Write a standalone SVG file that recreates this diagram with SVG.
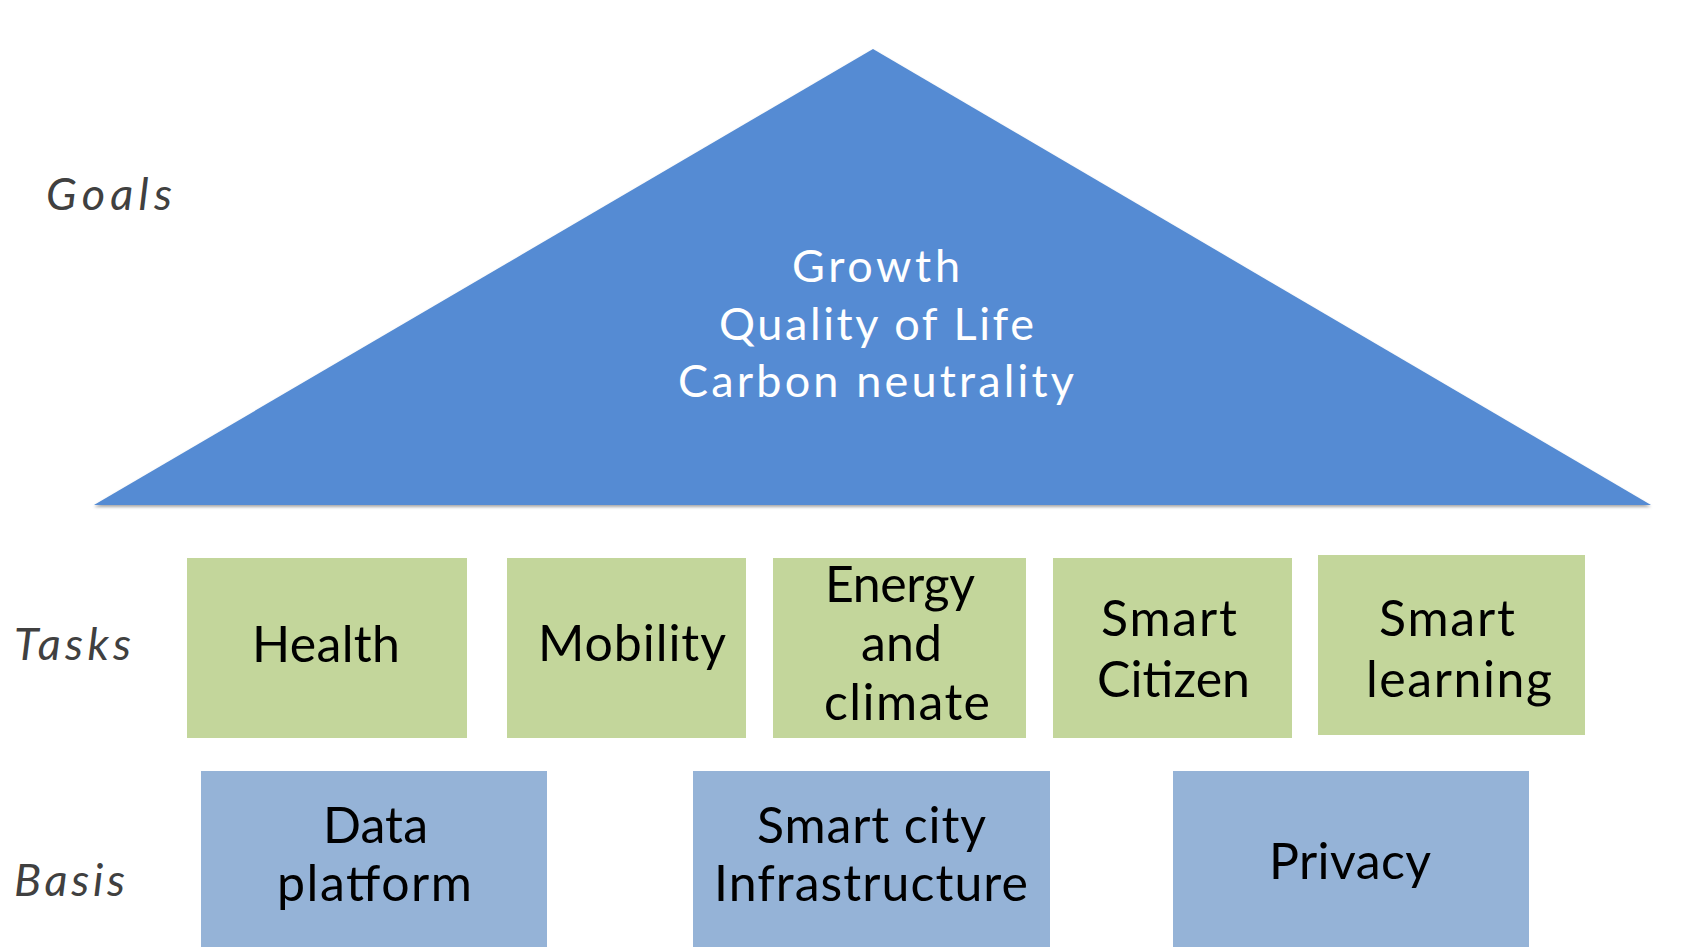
<svg xmlns="http://www.w3.org/2000/svg" width="1681" height="947" viewBox="0 0 1681 947">
  <defs>
    <filter id="shadow" x="-5%" y="-5%" width="110%" height="115%">
      <feDropShadow dx="0" dy="2" stdDeviation="1.5" flood-color="#000" flood-opacity="0.35"/>
    </filter>
    <style>
      .lbl { font-family: Lato, "Open Sans", "Liberation Sans", sans-serif; font-style: italic; font-size: 45px; fill: #404040; }
      .goal { font-family: Lato, "Open Sans", "Liberation Sans", sans-serif; font-size: 45px; fill: #ffffff; }
      .bt { font-family: Lato, "Open Sans", "Liberation Sans", sans-serif; font-size: 50px; fill: #000000; }
      .task { fill: #C3D69B; }
      .base { fill: #95B3D7; }
    </style>
  </defs>
  <rect width="1681" height="947" fill="#ffffff"/>

  <g id="labels">
    <text class="lbl" x="46" y="210" textLength="126">Goals</text>
    <text class="lbl" x="14" y="660" textLength="117">Tasks</text>
    <text class="lbl" x="14" y="896" textLength="111">Basis</text>
  </g>

  <g id="goals">
    <polygon points="873,49 1651,505 94,505" fill="#548BD3" filter="url(#shadow)"/>
    <text class="goal" x="792" y="282" textLength="168">Growth</text>
    <text class="goal" x="719" y="340" textLength="315">Quality of Life</text>
    <text class="goal" x="678" y="397" textLength="396">Carbon neutrality</text>
  </g>

  <g id="task-health">
    <rect class="task" x="187" y="558" width="280" height="180"/>
    <text class="bt" x="252" y="662" textLength="148">Health</text>
  </g>
  <g id="task-mobility">
    <rect class="task" x="507" y="558" width="239" height="180"/>
    <text class="bt" x="538" y="661" textLength="188">Mobility</text>
  </g>
  <g id="task-energy">
    <rect class="task" x="773" y="558" width="253" height="180"/>
    <text class="bt" x="825" y="602" textLength="150">Energy</text>
    <text class="bt" x="861" y="661" textLength="81">and</text>
    <text class="bt" x="824" y="720" textLength="166">climate</text>
  </g>
  <g id="task-citizen">
    <rect class="task" x="1053" y="558" width="239" height="180"/>
    <text class="bt" x="1101" y="636" textLength="136">Smart</text>
    <text class="bt" x="1097" y="697" textLength="153">Citizen</text>
  </g>
  <g id="task-learning">
    <rect class="task" x="1318" y="555" width="267" height="180"/>
    <text class="bt" x="1379" y="636" textLength="136">Smart</text>
    <text class="bt" x="1366" y="697" textLength="186">learning</text>
  </g>

  <g id="basis-data">
    <rect class="base" x="201" y="771" width="346" height="176"/>
    <text class="bt" x="323" y="843" textLength="105">Data</text>
    <text class="bt" x="277" y="901" textLength="195">platform</text>
  </g>
  <g id="basis-infra">
    <rect class="base" x="693" y="771" width="357" height="176"/>
    <text class="bt" x="757" y="843" textLength="229">Smart city</text>
    <text class="bt" x="714" y="901" textLength="314">Infrastructure</text>
  </g>
  <g id="basis-privacy">
    <rect class="base" x="1173" y="771" width="356" height="176"/>
    <text class="bt" x="1269" y="879" textLength="162">Privacy</text>
  </g>

  <g id="connectors"/>
</svg>
